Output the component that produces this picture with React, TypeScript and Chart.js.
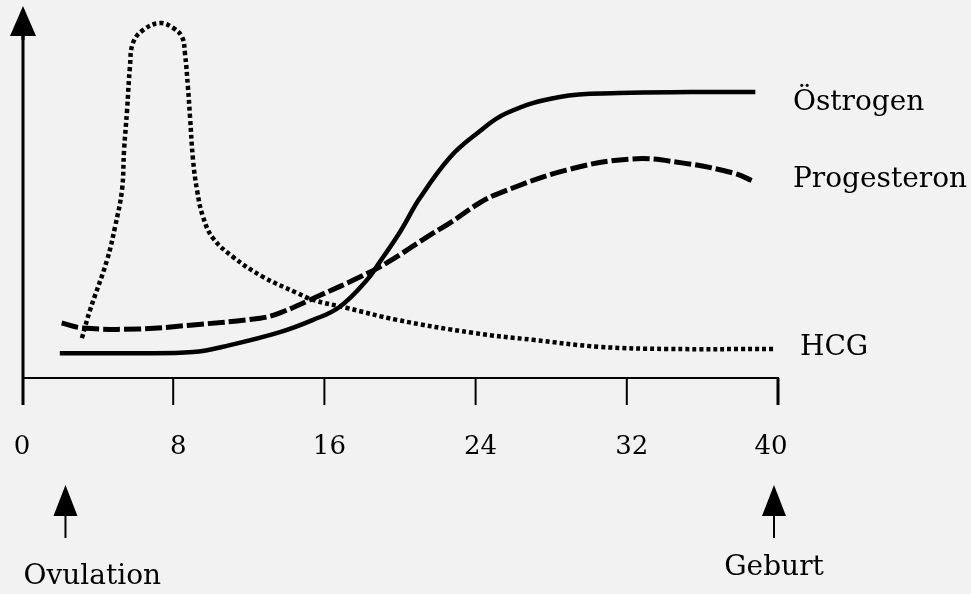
import { useEffect, useRef } from "react";
import { Chart, registerables } from "chart.js";

Chart.register(...registerables);

// ---- data (weeks of pregnancy vs. relative hormone level) ----
const xTickValues = [0, 8, 16, 24, 32, 40];
const xTickLabels = ["0", "8", "16", "24", "32", "40"];

const oestrogenWeeks = [2.0, 5.2, 9.05, 11.0, 13.65, 15.4, 16.8, 18.25, 18.9, 20.0, 21.05, 22.65, 24.1, 25.65, 28.45, 31.6, 35.35, 38.8];
const oestrogenLevels = [7.1, 7.1, 7.4, 9.4, 13.1, 16.6, 20.3, 28.0, 32.9, 41.7, 51.4, 63.1, 70.0, 75.7, 80.3, 81.4, 81.7, 81.7];

const progesteronWeeks = [2.1, 3.2, 6.2, 8.9, 12.6, 13.65, 15.8, 17.9, 19.3, 21.75, 22.65, 24.2, 25.3, 28.8, 32.3, 35.0, 37.6, 38.8];
const progesteronLevels = [15.7, 14.3, 14.0, 15.1, 17.1, 18.6, 23.7, 28.9, 32.9, 41.4, 44.3, 50.0, 52.9, 59.4, 62.6, 61.4, 58.6, 56.0];

const hcgWeeks = [3.17, 3.6, 4.5, 4.92, 5.29, 5.4, 5.56, 5.71, 5.87, 6.4, 7.3, 8.0, 8.47, 8.62, 8.78, 8.89, 9.05, 9.26, 9.58, 10.1, 11.16, 12.75, 14.55, 15.4, 17.2, 19.84, 23.86, 27.04, 30.58, 34.13, 39.74];
const hcgLevels = [11.4, 19.4, 33.7, 43.1, 53.7, 65.1, 76.6, 88.9, 95.7, 99.4, 101.4, 100, 97.4, 92.9, 83.1, 74.6, 62.3, 53.7, 46.0, 40.0, 34.6, 28.9, 24.3, 22.3, 20.0, 16.6, 12.9, 10.9, 8.9, 8.3, 8.3];

const seriesNames = ["Östrogen", "Progesteron", "HCG"];
const eventWeeks = [2.3, 40];
const eventNames = ["Ovulation", "Geburt"];

const toPoints = (xs: number[], ys: number[]) => xs.map((x, i) => ({ x, y: ys[i] }));

const FONT = "'DejaVu Serif', 'Liberation Serif', serif";

function drawUpArrow(ctx: CanvasRenderingContext2D, x: number, tip: number, base: number, bottom: number, half: number, shaft: number) {
  ctx.save();
  ctx.fillStyle = "#000";
  ctx.strokeStyle = "#000";
  ctx.lineWidth = shaft;
  ctx.beginPath();
  ctx.moveTo(x, base - 2);
  ctx.lineTo(x, bottom);
  ctx.stroke();
  ctx.beginPath();
  ctx.moveTo(x, tip);
  ctx.lineTo(x + half, base);
  ctx.lineTo(x - half, base);
  ctx.closePath();
  ctx.fill();
  ctx.restore();
}

const overlayPlugin = {
  id: "overlay",
  beforeDraw(chart: any) {
    const ctx = chart.ctx as CanvasRenderingContext2D;
    ctx.save();
    ctx.fillStyle = "#f2f2f2";
    ctx.fillRect(0, 0, chart.width, chart.height);
    ctx.restore();
  },
  beforeDatasetsDraw(chart: any) {
    const ctx = chart.ctx as CanvasRenderingContext2D;
    const xs = chart.scales.x;
    const ys = chart.scales.y;
    const x0 = xs.getPixelForValue(0);
    const x40 = xs.getPixelForValue(40);
    const y0 = ys.getPixelForValue(0);
    ctx.save();
    ctx.strokeStyle = "#000";
    ctx.lineCap = "butt";
    // y axis with arrow
    ctx.lineWidth = 3;
    ctx.beginPath();
    ctx.moveTo(x0 + 1, 30);
    ctx.lineTo(x0 + 1, y0 + 27);
    ctx.stroke();
    drawUpArrow(ctx, x0 + 1, 6, 36, 40, 13, 3);
    // x axis
    ctx.lineWidth = 2;
    ctx.beginPath();
    ctx.moveTo(x0, y0);
    ctx.lineTo(x40 + 1, y0);
    ctx.stroke();
    // ticks + labels
    ctx.fillStyle = "#000";
    ctx.font = `26px ${FONT}`;
    ctx.textAlign = "center";
    ctx.textBaseline = "middle";
    xTickValues.forEach((v, i) => {
      const px = xs.getPixelForValue(v);
      if (v !== 0) {
        ctx.lineWidth = v === 40 ? 3 : 2;
        ctx.beginPath();
        ctx.moveTo(px, y0);
        ctx.lineTo(px, y0 + 27);
        ctx.stroke();
      }
      const off = v === 0 ? 0 : v === 40 ? -7 : 5;
      ctx.fillText(xTickLabels[i], px + off, y0 + 69);
    });
    ctx.restore();
  },
  afterDatasetsDraw(chart: any) {
    const ctx = chart.ctx as CanvasRenderingContext2D;
    const xs = chart.scales.x;
    const ys = chart.scales.y;
    const right = chart.chartArea.right;
    ctx.save();
    ctx.fillStyle = "#000";
    ctx.font = `28px ${FONT}`;
    ctx.textBaseline = "middle";
    ctx.textAlign = "left";
    // series labels next to the line ends
    const lastVals = [
      oestrogenLevels[oestrogenLevels.length - 1],
      progesteronLevels[progesteronLevels.length - 1],
      hcgLevels[hcgLevels.length - 1],
    ];
    const dys = [11, -2, -1];
    const dxs = [15, 15, 22];
    seriesNames.forEach((name, i) => {
      ctx.fillText(name, right + dxs[i], ys.getPixelForValue(lastVals[i]) + dys[i]);
    });
    // event arrows
    const y0 = ys.getPixelForValue(0);
    eventWeeks.forEach((w, i) => {
      const px = xs.getPixelForValue(w) - (i === 1 ? 4 : 0);
      drawUpArrow(ctx, px, y0 + 107, y0 + 138, y0 + 160, 12, 2);
      if (i === 0) {
        ctx.textAlign = "left";
        ctx.fillText(eventNames[i], px - 42, y0 + 199);
      } else {
        ctx.textAlign = "center";
        ctx.fillText(eventNames[i], px, y0 + 190);
      }
    });
    ctx.restore();
  },
};

export default function App() {
  const canvasRef = useRef<HTMLCanvasElement | null>(null);

  useEffect(() => {
    const canvas = canvasRef.current;
    if (!canvas) return;
    const chart = new Chart(canvas, {
      type: "line",
      data: {
        datasets: [
          {
            label: seriesNames[0],
            data: toPoints(oestrogenWeeks, oestrogenLevels),
            borderColor: "#000",
            borderWidth: 4.5,
            pointRadius: 0,
            tension: 0.4,
            borderCapStyle: "butt",
            clip: false as any,
          },
          {
            label: seriesNames[1],
            data: toPoints(progesteronWeeks, progesteronLevels),
            borderColor: "#000",
            borderWidth: 5,
            borderDash: [17, 4],
            pointRadius: 0,
            tension: 0.4,
            borderCapStyle: "butt",
            clip: false as any,
          },
          {
            label: seriesNames[2],
            data: toPoints(hcgWeeks, hcgLevels),
            borderColor: "#000",
            borderWidth: 4.5,
            borderDash: [4, 3],
            pointRadius: 0,
            tension: 0.4,
            borderCapStyle: "butt",
            clip: false as any,
          },
        ],
      },
      options: {
        animation: false,
        responsive: false,
        devicePixelRatio: 1,
        layout: { padding: { left: 22, right: 193, top: 28, bottom: 216 } },
        plugins: { legend: { display: false }, tooltip: { enabled: false } },
        events: [],
        scales: {
          x: { type: "linear", min: 0, max: 40, display: false },
          y: { type: "linear", min: 0, max: 100, display: false },
        },
      },
      plugins: [overlayPlugin],
    });
    return () => chart.destroy();
  }, []);

  return (
    <div style={{ position: "absolute", left: 0, top: 0, width: 971, height: 594 }}>
      <canvas ref={canvasRef} width={971} height={594} style={{ width: 971, height: 594, display: "block" }} />
    </div>
  );
}
